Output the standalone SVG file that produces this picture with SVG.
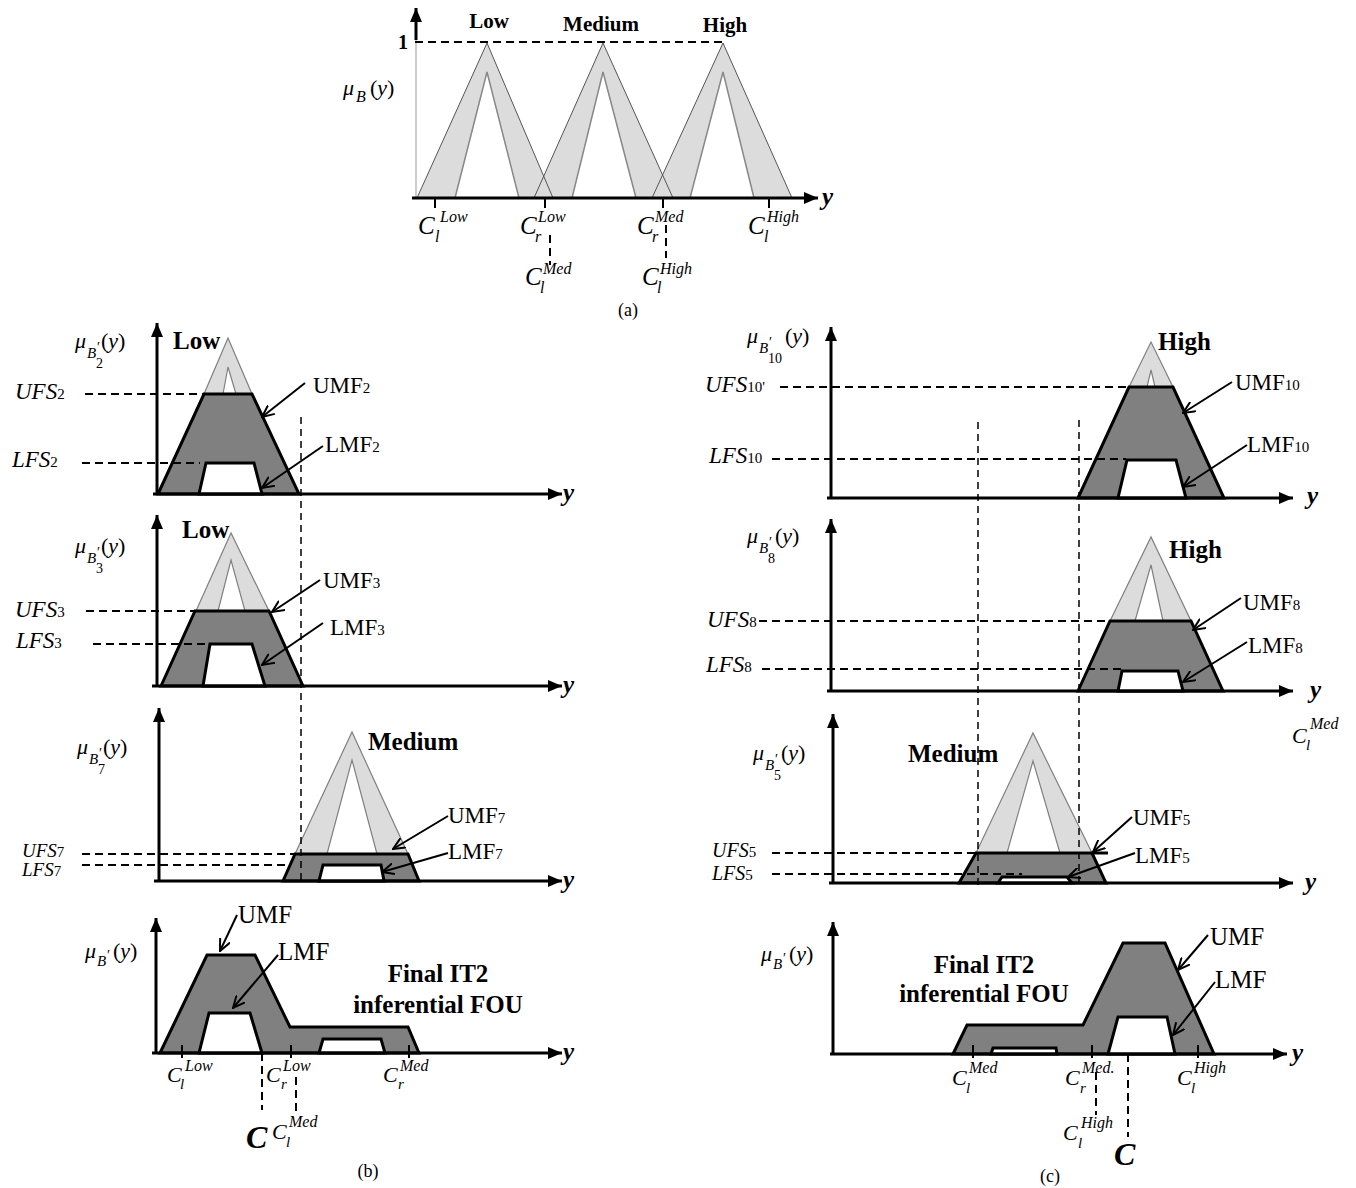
<svg xmlns="http://www.w3.org/2000/svg" width="1356" height="1188" viewBox="0 0 1356 1188">
<style>
text{font-family:"Liberation Serif","Times New Roman",serif;fill:#000}
.it{font-style:italic}
.b{font-weight:bold}
.lab{font-size:23px}
.fl{font-size:25px}
.sub{font-size:15px;font-style:normal}
.ttl{font-size:25px;font-weight:bold}
.ax{stroke:#000;stroke-width:3;fill:none}
.dash{stroke:#000;stroke-width:2;stroke-dasharray:8 5;fill:none}
.vd{stroke:#000;stroke-width:1.5;stroke-dasharray:7 5;fill:none}
.dark{fill:#808080;stroke:#000;stroke-width:3;stroke-linejoin:miter}
.lmf{fill:#fff;stroke:#000;stroke-width:3}
.lo{fill:#dcdcdc;stroke:#808080;stroke-width:1.2}
.li{fill:#fff;stroke:#808080;stroke-width:1.2}
.arr{stroke:#000;stroke-width:2;fill:none}
.tick{stroke:#000;stroke-width:2}
</style>
<defs>
<marker id="ah" viewBox="0 0 14 12" refX="14" refY="6" markerWidth="14" markerHeight="12" markerUnits="userSpaceOnUse" orient="auto"><path d="M0,0 L14,6 L0,12 z" fill="#000"/></marker>
<marker id="oa" viewBox="0 0 13 12" refX="12" refY="6" markerWidth="13" markerHeight="12" markerUnits="userSpaceOnUse" orient="auto"><path d="M0,0.5 L12,6 L0,11.5" fill="none" stroke="#000" stroke-width="2"/></marker>
</defs>

<!-- (a) -->
<g id="panel-a">
<line x1="416" y1="198" x2="416" y2="38" stroke="#999" stroke-width="1"/>
<line class="ax" x1="416" y1="40" x2="416" y2="8" marker-end="url(#ah)"/>
<line class="dash" x1="415" y1="42" x2="725" y2="42"/>
<g stroke="none" fill="#dcdcdc">
<polygon points="417,198 487,43 553,198"/>
<polygon points="534,198 603,43 673,198"/>
<polygon points="652,198 723,43 792,198"/>
</g>
<g fill="#fff" stroke="none">
<polygon points="455,198 487,72 519,198"/>
<polygon points="572,198 603,72 636,198"/>
<polygon points="690,198 723,72 754,198"/>
</g>
<g fill="none" stroke="#555" stroke-width="1">
<polyline points="417,198 487,43 553,198"/>
<polyline points="534,198 603,43 673,198"/>
<polyline points="652,198 723,43 792,198"/>
</g>
<g fill="none" stroke="#888" stroke-width="1.5">
<polyline points="455,198 487,72 519,198"/>
<polyline points="572,198 603,72 636,198"/>
<polyline points="690,198 723,72 754,198"/>
</g>
<line class="ax" x1="412" y1="198" x2="818" y2="198" marker-end="url(#ah)"/>
<g class="tick"><line x1="435" y1="198" x2="435" y2="208"/><line x1="545" y1="198" x2="545" y2="208"/><line x1="663" y1="198" x2="663" y2="208"/><line x1="769" y1="198" x2="769" y2="208"/></g>
<line class="dash" x1="550" y1="235" x2="550" y2="265" stroke-dasharray="6 4"/>
<line class="dash" x1="666" y1="225" x2="666" y2="258" stroke-dasharray="6 4"/>
<text class="b" x="489" y="28" font-size="21" text-anchor="middle">Low</text>
<text class="b" x="601" y="31" font-size="21" text-anchor="middle">Medium</text>
<text class="b" x="725" y="32" font-size="21" text-anchor="middle">High</text>
<text class="b" x="398" y="49" font-size="20">1</text>
<text font-size="22"><tspan class="it" x="343" y="95">μ</tspan><tspan class="it" x="356" y="102" font-size="16">B</tspan><tspan x="370" y="95">(</tspan><tspan class="it">y</tspan><tspan>)</tspan></text>
<text class="b it" x="822" y="205" font-size="25">y</text>
<text class="it" font-size="25"><tspan x="418" y="234">C</tspan><tspan x="440" y="222" font-size="16">Low</tspan><tspan x="435" y="242" font-size="16">l</tspan></text>
<text class="it" font-size="25"><tspan x="520" y="234">C</tspan><tspan x="538" y="222" font-size="16">Low</tspan><tspan x="535" y="242" font-size="16">r</tspan></text>
<text class="it" font-size="25"><tspan x="637" y="234">C</tspan><tspan x="655" y="222" font-size="16">Med</tspan><tspan x="652" y="242" font-size="16">r</tspan></text>
<text class="it" font-size="25"><tspan x="748" y="234">C</tspan><tspan x="767" y="222" font-size="16">High</tspan><tspan x="764" y="242" font-size="16">l</tspan></text>
<text class="it" font-size="25"><tspan x="525" y="285">C</tspan><tspan x="543" y="274" font-size="16">Med</tspan><tspan x="540" y="293" font-size="16">l</tspan></text>
<text class="it" font-size="25"><tspan x="642" y="285">C</tspan><tspan x="660" y="274" font-size="16">High</tspan><tspan x="657" y="293" font-size="16">l</tspan></text>
<text x="628" y="316" font-size="18" text-anchor="middle">(a)</text>
</g>

<!-- (b) panel 2 -->
<g id="panel-b2">
<polygon class="lo" points="204,394 228,338 252,394"/>
<polygon class="li" points="223,394 228,367 236,394"/>
<polygon class="dark" points="158,494 204,394 252,394 299,494"/>
<polygon class="lmf" points="199,494 206,463 254,463 262,494"/>
<line class="ax" x1="157" y1="494" x2="157" y2="323" marker-end="url(#ah)"/>
<line class="ax" x1="153" y1="494" x2="562" y2="494" marker-end="url(#ah)"/>
<line class="dash" x1="85" y1="394" x2="204" y2="394"/>
<line class="dash" x1="82" y1="463" x2="200" y2="463" stroke-dasharray="2 6 8 5 8 5 8 5 8 5 8 5 8 5 8 5 8 5"/>
<text font-size="22"><tspan class="it" x="75" y="348">μ</tspan><tspan class="it" x="87" y="358" font-size="15">B</tspan><tspan x="97" y="352" font-size="14">′</tspan><tspan x="96" y="368" font-size="14">2</tspan><tspan x="101" y="348">(</tspan><tspan class="it">y</tspan><tspan>)</tspan></text>
<text class="ttl" x="173" y="349">Low</text>
<text class="it lab" x="15" y="399">UFS<tspan class="sub">2</tspan></text>
<text class="it lab" x="12" y="467">LFS<tspan class="sub">2</tspan></text>
<text class="lab" x="313" y="393">UMF<tspan class="sub">2</tspan></text>
<text class="lab" x="325" y="452">LMF<tspan class="sub">2</tspan></text>
<text class="b it" x="563" y="501" font-size="25">y</text>
</g>

<!-- (b) panel 3 -->
<g id="panel-b3">
<polygon class="lo" points="196,611 231,533 269,611"/>
<polygon class="li" points="218,611 231,560 245,611"/>
<polygon class="dark" points="161,686 195,611 269,611 303,686"/>
<polygon class="lmf" points="203,686 210,644 252,644 265,686"/>
<line class="ax" x1="157" y1="686" x2="157" y2="515" marker-end="url(#ah)"/>
<line class="ax" x1="152" y1="686" x2="562" y2="686" marker-end="url(#ah)"/>
<line class="dash" x1="86" y1="611" x2="195" y2="611"/>
<line class="dash" x1="93" y1="644" x2="233" y2="644"/>
<text font-size="22"><tspan class="it" x="75" y="553">μ</tspan><tspan class="it" x="87" y="563" font-size="15">B</tspan><tspan x="97" y="557" font-size="14">′</tspan><tspan x="96" y="573" font-size="14">3</tspan><tspan x="101" y="553">(</tspan><tspan class="it">y</tspan><tspan>)</tspan></text>
<text class="ttl" x="182" y="538">Low</text>
<text class="it lab" x="15" y="617">UFS<tspan class="sub">3</tspan></text>
<text class="it lab" x="16" y="648">LFS<tspan class="sub">3</tspan></text>
<text class="lab" x="323" y="588">UMF<tspan class="sub">3</tspan></text>
<text class="lab" x="330" y="635">LMF<tspan class="sub">3</tspan></text>
<text class="b it" x="563" y="693" font-size="25">y</text>
</g>

<!-- (b) panel 7 -->
<g id="panel-b7">
<polygon class="lo" points="295,854 352,732 408,854"/>
<polygon class="li" points="327,854 352,760 377,854"/>
<polygon class="dark" points="283,881 295,854 408,854 419,881"/>
<polygon class="lmf" points="319,881 323,865 381,865 384,881"/>
<line class="ax" x1="159" y1="881" x2="159" y2="708" marker-end="url(#ah)"/>
<line class="ax" x1="154" y1="881" x2="562" y2="881" marker-end="url(#ah)"/>
<line class="dash" x1="82" y1="854" x2="295" y2="854"/>
<line class="dash" x1="82" y1="865" x2="287" y2="865"/>
<text font-size="22"><tspan class="it" x="77" y="754">μ</tspan><tspan class="it" x="89" y="764" font-size="15">B</tspan><tspan x="99" y="758" font-size="14">′</tspan><tspan x="98" y="774" font-size="14">7</tspan><tspan x="103" y="754">(</tspan><tspan class="it">y</tspan><tspan>)</tspan></text>
<text class="ttl" x="368" y="750">Medium</text>
<text class="it" x="22" y="857" font-size="19">UFS<tspan class="sub" font-size="14">7</tspan></text>
<text class="it" x="22" y="876" font-size="19">LFS<tspan class="sub" font-size="14">7</tspan></text>
<text class="lab" x="448" y="823">UMF<tspan class="sub">7</tspan></text>
<text class="lab" x="448" y="859">LMF<tspan class="sub">7</tspan></text>
<text class="b it" x="563" y="888" font-size="25">y</text>
</g>

<!-- (b) final -->
<g id="panel-b-final">
<polygon class="dark" points="160,1053 207,955 255,955 290,1027 408,1027 419,1053"/>
<polygon class="lmf" points="199,1053 209,1013 250,1013 262,1053"/>
<polygon class="lmf" points="319,1053 323,1039 381,1039 385,1053"/>
<line class="ax" x1="156" y1="1053" x2="156" y2="918" marker-end="url(#ah)"/>
<line class="ax" x1="152" y1="1053" x2="562" y2="1053" marker-end="url(#ah)"/>
<g class="tick"><line x1="182" y1="1045" x2="182" y2="1058"/><line x1="291" y1="1045" x2="291" y2="1058"/><line x1="409" y1="1045" x2="409" y2="1058"/></g>
<line class="dash" x1="262" y1="1053" x2="262" y2="1110" stroke-dasharray="6 4" stroke-width="1.5"/>
<line class="dash" x1="296" y1="1077" x2="296" y2="1113" stroke-dasharray="6 4"/>
<text font-size="22"><tspan class="it" x="85" y="958">μ</tspan><tspan class="it" x="97" y="966" font-size="15">B</tspan><tspan x="107" y="960" font-size="14">′</tspan><tspan x="113" y="958">(</tspan><tspan class="it">y</tspan><tspan>)</tspan></text>
<text class="fl" x="238" y="923">UMF</text>
<text class="fl" x="278" y="960">LMF</text>
<text class="ttl" x="438" y="982" text-anchor="middle">Final IT2</text>
<text class="ttl" x="438" y="1013" text-anchor="middle">inferential FOU</text>
<text class="it" font-size="22"><tspan x="167" y="1082">C</tspan><tspan x="185" y="1071" font-size="16">Low</tspan><tspan x="180" y="1089" font-size="15">l</tspan></text>
<text class="it" font-size="22"><tspan x="266" y="1082">C</tspan><tspan x="283" y="1071" font-size="16">Low</tspan><tspan x="281" y="1089" font-size="15">r</tspan></text>
<text class="it" font-size="22"><tspan x="383" y="1082">C</tspan><tspan x="400" y="1071" font-size="16">Med</tspan><tspan x="398" y="1089" font-size="15">r</tspan></text>
<text class="it b" x="246" y="1148" font-size="32">C</text>
<text class="it" font-size="22"><tspan x="272" y="1139">C</tspan><tspan x="289" y="1127" font-size="16">Med</tspan><tspan x="286" y="1147" font-size="15">l</tspan></text>
<text class="b it" x="563" y="1060" font-size="25">y</text>
<text x="368" y="1177" font-size="18" text-anchor="middle">(b)</text>
</g>

<!-- (c) panel 10 -->
<g id="panel-c10">
<polygon class="lo" points="1129,387 1151,342 1173,387"/>
<polygon class="li" points="1147,387 1151,370 1155,387"/>
<polygon class="dark" points="1078,498 1129,387 1173,387 1224,498"/>
<polygon class="lmf" points="1118,498 1127,460 1176,460 1186,498"/>
<line class="ax" x1="831" y1="498" x2="831" y2="327" marker-end="url(#ah)"/>
<line class="ax" x1="827" y1="498" x2="1293" y2="498" marker-end="url(#ah)"/>
<line class="dash" x1="780" y1="387" x2="1129" y2="387"/>
<line class="dash" x1="772" y1="459" x2="1126" y2="459"/>
<text font-size="22"><tspan class="it" x="747" y="343">μ</tspan><tspan class="it" x="759" y="353" font-size="15">B</tspan><tspan x="769" y="347" font-size="14">′</tspan><tspan x="768" y="363" font-size="14">10</tspan><tspan x="785" y="343">(</tspan><tspan class="it">y</tspan><tspan>)</tspan></text>
<text class="ttl" x="1158" y="350">High</text>
<text class="it lab" x="705" y="392">UFS<tspan class="sub">10'</tspan></text>
<text class="it lab" x="709" y="463">LFS<tspan class="sub">10</tspan></text>
<text class="lab" x="1235" y="390">UMF<tspan class="sub">10</tspan></text>
<text class="lab" x="1247" y="452">LMF<tspan class="sub">10</tspan></text>
<text class="b it" x="1307" y="504" font-size="25">y</text>
</g>

<!-- (c) panel 8 -->
<g id="panel-c8">
<polygon class="lo" points="1110,621 1151,537 1191,621"/>
<polygon class="li" points="1135,621 1151,565 1163,621"/>
<polygon class="dark" points="1078,691 1110,621 1191,621 1223,691"/>
<polygon class="lmf" points="1118,691 1122,671 1178,671 1183,691"/>
<line class="ax" x1="831" y1="691" x2="831" y2="519" marker-end="url(#ah)"/>
<line class="ax" x1="827" y1="691" x2="1293" y2="691" marker-end="url(#ah)"/>
<line class="dash" x1="759" y1="621" x2="1110" y2="621"/>
<line class="dash" x1="762" y1="669" x2="1124" y2="669"/>
<text font-size="22"><tspan class="it" x="747" y="543">μ</tspan><tspan class="it" x="759" y="553" font-size="15">B</tspan><tspan x="769" y="547" font-size="14">′</tspan><tspan x="768" y="563" font-size="14">8</tspan><tspan x="775" y="543">(</tspan><tspan class="it">y</tspan><tspan>)</tspan></text>
<text class="ttl" x="1169" y="558">High</text>
<text class="it lab" x="707" y="627">UFS<tspan class="sub">8</tspan></text>
<text class="it lab" x="706" y="672">LFS<tspan class="sub">8</tspan></text>
<text class="lab" x="1243" y="610">UMF<tspan class="sub">8</tspan></text>
<text class="lab" x="1248" y="653">LMF<tspan class="sub">8</tspan></text>
<text class="b it" x="1310" y="698" font-size="25">y</text>
<text class="it" font-size="22"><tspan x="1292" y="743">C</tspan><tspan x="1310" y="729" font-size="16">Med</tspan><tspan x="1306" y="750" font-size="15">l</tspan></text>
</g>

<!-- (c) panel 5 -->
<g id="panel-c5">
<polygon class="lo" points="976,853 1033,733 1092,853"/>
<polygon class="li" points="1007,853 1033,761 1060,853"/>
<polygon class="dark" points="959,883 976,853 1092,853 1106,883"/>
<line x1="1092" y1="853" x2="1108" y2="853" stroke="#000" stroke-width="3"/>
<polygon class="lmf" points="998,883 1002,877 1067,877 1072,883" stroke-width="2.5"/>
<line class="ax" x1="833" y1="883" x2="833" y2="714" marker-end="url(#ah)"/>
<line class="ax" x1="829" y1="883" x2="1293" y2="883" marker-end="url(#ah)"/>
<line class="dash" x1="772" y1="853" x2="976" y2="853"/>
<line class="dash" x1="772" y1="874" x2="1022" y2="874"/>
<text font-size="22"><tspan class="it" x="753" y="760">μ</tspan><tspan class="it" x="765" y="770" font-size="15">B</tspan><tspan x="775" y="764" font-size="14">′</tspan><tspan x="774" y="780" font-size="14">5</tspan><tspan x="781" y="760">(</tspan><tspan class="it">y</tspan><tspan>)</tspan></text>
<text class="ttl" x="908" y="762">Medium</text>
<text class="it" x="712" y="857" font-size="20">UFS<tspan class="sub" font-size="14">5</tspan></text>
<text class="it" x="712" y="880" font-size="20">LFS<tspan class="sub" font-size="14">5</tspan></text>
<text class="lab" x="1133" y="825">UMF<tspan class="sub">5</tspan></text>
<text class="lab" x="1135" y="863">LMF<tspan class="sub">5</tspan></text>
<text class="b it" x="1305" y="890" font-size="25">y</text>
</g>

<!-- (c) final -->
<g id="panel-c-final">
<polygon class="dark" points="953,1054 967,1025 1083,1025 1123,943 1165,943 1214,1054"/>
<polygon class="lmf" points="1108,1054 1118,1017 1167,1017 1175,1054"/>
<polygon class="lmf" points="991,1054 993,1048 1056,1048 1057,1054" stroke-width="2.5"/>
<line class="ax" x1="833" y1="1054" x2="833" y2="922" marker-end="url(#ah)"/>
<line class="ax" x1="830" y1="1054" x2="1287" y2="1054" marker-end="url(#ah)"/>
<g class="tick"><line x1="973" y1="1045" x2="973" y2="1058"/><line x1="1092" y1="1045" x2="1092" y2="1058"/><line x1="1198" y1="1045" x2="1198" y2="1058"/></g>
<line class="dash" x1="1096" y1="1072" x2="1096" y2="1115" stroke-dasharray="6 4"/>
<line class="dash" x1="1128" y1="1054" x2="1128" y2="1137" stroke-dasharray="6 4" stroke-width="1.5"/>
<text font-size="22"><tspan class="it" x="761" y="961">μ</tspan><tspan class="it" x="773" y="969" font-size="15">B</tspan><tspan x="783" y="963" font-size="14">′</tspan><tspan x="789" y="961">(</tspan><tspan class="it">y</tspan><tspan>)</tspan></text>
<text class="ttl" x="984" y="973" text-anchor="middle">Final IT2</text>
<text class="ttl" x="984" y="1002" text-anchor="middle">inferential FOU</text>
<text class="fl" x="1210" y="945">UMF</text>
<text class="fl" x="1215" y="988">LMF</text>
<text class="it" font-size="22"><tspan x="952" y="1085">C</tspan><tspan x="969" y="1073" font-size="16">Med</tspan><tspan x="966" y="1093" font-size="15">l</tspan></text>
<text class="it" font-size="22"><tspan x="1065" y="1085">C</tspan><tspan x="1082" y="1073" font-size="16">Med.</tspan><tspan x="1080" y="1093" font-size="15">r</tspan></text>
<text class="it" font-size="22"><tspan x="1177" y="1085">C</tspan><tspan x="1194" y="1073" font-size="16">High</tspan><tspan x="1191" y="1093" font-size="15">l</tspan></text>
<text class="it" font-size="22"><tspan x="1063" y="1140">C</tspan><tspan x="1081" y="1128" font-size="16">High</tspan><tspan x="1078" y="1148" font-size="15">l</tspan></text>
<text class="it b" x="1114" y="1165" font-size="32">C</text>
<text class="b it" x="1292" y="1061" font-size="25">y</text>
<text x="1050" y="1182" font-size="18" text-anchor="middle">(c)</text>
</g>

<!-- connectors -->
<g id="connectors">
<line class="vd" x1="301" y1="417" x2="301" y2="882"/>
<line class="vd" x1="978" y1="422" x2="978" y2="885"/>
<line class="vd" x1="1079" y1="420" x2="1079" y2="885"/>
<line class="arr" x1="305" y1="383" x2="262" y2="417" marker-end="url(#oa)"/>
<line class="arr" x1="323" y1="446" x2="262" y2="488" marker-end="url(#oa)"/>
<line class="arr" x1="320" y1="580" x2="272" y2="612" marker-end="url(#oa)"/>
<line class="arr" x1="323" y1="623" x2="262" y2="665" marker-end="url(#oa)"/>
<line class="arr" x1="448" y1="816" x2="393" y2="849" marker-end="url(#oa)"/>
<line class="arr" x1="448" y1="853" x2="382" y2="872" marker-end="url(#oa)"/>
<line class="arr" x1="237" y1="915" x2="220" y2="951" marker-end="url(#oa)"/>
<line class="arr" x1="278" y1="955" x2="233" y2="1008" marker-end="url(#oa)"/>
<line class="arr" x1="1232" y1="382" x2="1183" y2="413" marker-end="url(#oa)"/>
<line class="arr" x1="1247" y1="445" x2="1183" y2="487" marker-end="url(#oa)"/>
<line class="arr" x1="1241" y1="598" x2="1193" y2="630" marker-end="url(#oa)"/>
<line class="arr" x1="1247" y1="642" x2="1183" y2="682" marker-end="url(#oa)"/>
<line class="arr" x1="1132" y1="817" x2="1093" y2="852" marker-end="url(#oa)"/>
<line class="arr" x1="1135" y1="853" x2="1068" y2="877" marker-end="url(#oa)"/>
<line class="arr" x1="1208" y1="935" x2="1178" y2="970" marker-end="url(#oa)"/>
<line class="arr" x1="1215" y1="982" x2="1173" y2="1035" marker-end="url(#oa)"/>
</g>
</svg>
